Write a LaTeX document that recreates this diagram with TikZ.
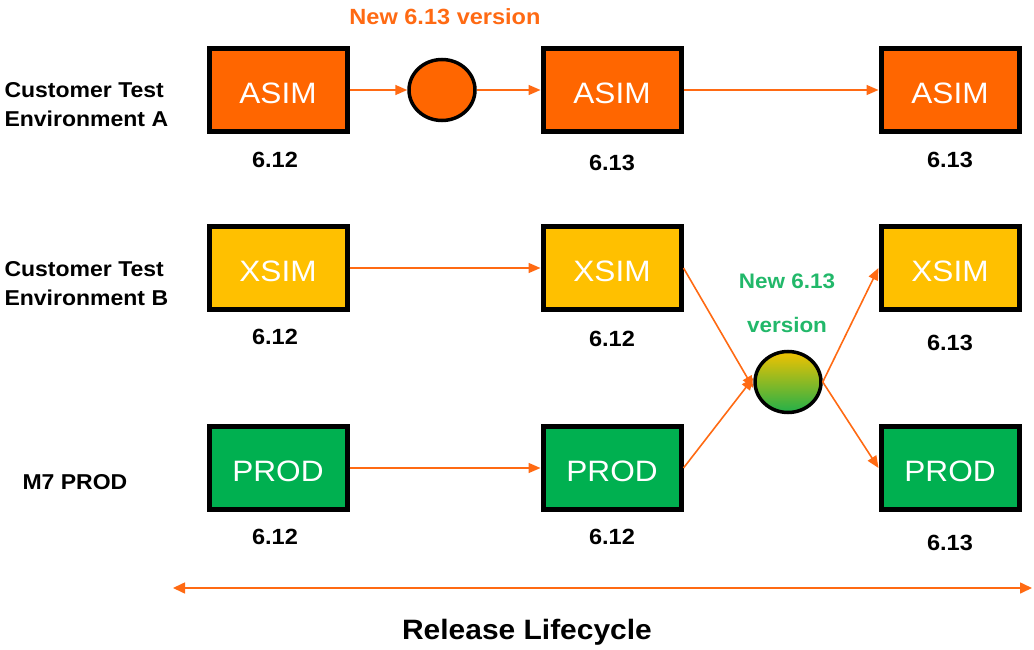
\documentclass[tikz,border=0pt]{standalone}
\usepackage{fontspec}
\setmainfont{Liberation Sans}[FakeStretch=1.07]
\usetikzlibrary{arrows.meta,shapes.geometric}
\definecolor{cOrange}{HTML}{FF6600}
\definecolor{cYellow}{HTML}{FFC000}
\definecolor{cGreen}{HTML}{00B050}
\definecolor{cArrow}{HTML}{FF6A13}
\definecolor{cNewGreen}{HTML}{22B86A}
\definecolor{cGradTop}{HTML}{F2C200}
\definecolor{cGradBot}{HTML}{22B04A}
\tikzset{
  sysbox/.style={draw=black, line width=5pt, minimum width=138pt, minimum height=83pt,
    text=white, font=\fontsize{29.5}{31}\selectfont, inner sep=0pt, text height=27pt, text depth=0pt},
  ver/.style={font=\bfseries\fontsize{22}{24}\selectfont, text=black},
  envlabel/.style={font=\bfseries\fontsize{21.5}{29}\selectfont, align=left, anchor=west, text=black},
  conn/.style={draw=cArrow, line width=1.6pt, -{Triangle[length=12pt,width=10pt]}},
  dot/.style={ellipse, draw=black, line width=3.5pt, minimum width=66pt, minimum height=61pt, inner sep=0pt}
}
\begin{document}
\begin{tikzpicture}[x=1pt,y=-1pt]
\useasboundingbox (0,0) rectangle (1034,650);
% left labels
\node[envlabel] (labA) at (1,105) {Customer Test\\Environment A};
\node[envlabel] (labB) at (1,284) {Customer Test\\Environment B};
\node[envlabel] (labP) at (19,482) {M7 PROD};
% row 1
\node[sysbox, fill=cOrange] (a1) at (278,90) {ASIM};
\node[dot, fill=cOrange] (c1) at (442,90) {};
\node[sysbox, fill=cOrange] (a2) at (612,90) {ASIM};
\node[sysbox, fill=cOrange] (a3) at (950,90) {ASIM};
\node[font=\bfseries\fontsize{22}{24}\selectfont, text=cArrow] (new1) at (445,17) {New 6.13 version};
\node[ver] (va1) at (275,160) {6.12};
\node[ver] (va2) at (612,163) {6.13};
\node[ver] (va3) at (950,160) {6.13};
% row 2
\node[sysbox, fill=cYellow] (x1) at (278,268) {XSIM};
\node[sysbox, fill=cYellow] (x2) at (612,268) {XSIM};
\node[sysbox, fill=cYellow] (x3) at (950,268) {XSIM};
\node[ver] (vx1) at (275,337) {6.12};
\node[ver] (vx2) at (612,339) {6.12};
\node[ver] (vx3) at (950,343) {6.13};
% row 3
\node[sysbox, fill=cGreen] (p1) at (278,468) {PROD};
\node[sysbox, fill=cGreen] (p2) at (612,468) {PROD};
\node[sysbox, fill=cGreen] (p3) at (950,468) {PROD};
\node[ver] (vp1) at (275,537) {6.12};
\node[ver] (vp2) at (612,537) {6.12};
\node[ver] (vp3) at (950,543) {6.13};
% gradient circle
\node[dot, top color=cGradTop, bottom color=cGradBot] (c2) at (788,382) {};
\node[font=\bfseries\fontsize{21}{24}\selectfont, text=cNewGreen] (new2a) at (787,281) {New 6.13};
\node[font=\bfseries\fontsize{21}{24}\selectfont, text=cNewGreen] (new2b) at (787,325) {version};
% connectors
\draw[conn] (a1.east) -- (c1.west);
\draw[conn] (c1.east) -- (a2.west);
\draw[conn] (a2.east) -- (a3.west);
\draw[conn] (x1.east) -- (x2.west);
\draw[conn] (p1.east) -- (p2.west);
\draw[conn] (x2.east) -- ([yshift=-6pt]c2.west);
\draw[conn] (p2.east) -- ([yshift=4pt]c2.west);
\draw[conn] (c2.east) -- (x3.west);
\draw[conn] (c2.east) -- (p3.west);
% lifecycle
\coordinate (lcL) at (173,588);
\coordinate (lcR) at (1032,588);
\draw[draw=cArrow, line width=1.6pt, {Triangle[length=12pt,width=11pt]}-{Triangle[length=12pt,width=11pt]}] (lcL) -- (lcR);
\node[font=\bfseries\fontsize{28}{30}\selectfont, text=black] (rl) at (527,632) {Release Lifecycle};
\end{tikzpicture}
\end{document}
